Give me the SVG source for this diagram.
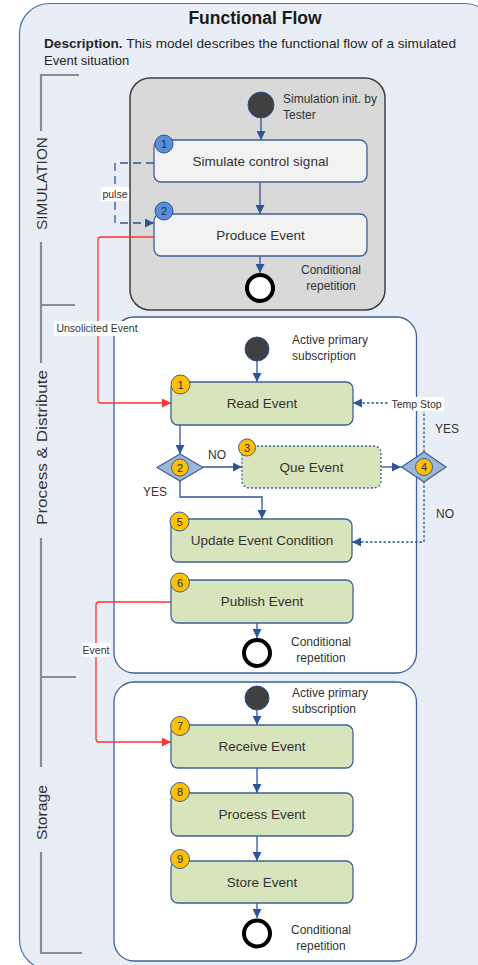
<svg xmlns="http://www.w3.org/2000/svg" width="478" height="965" viewBox="0 0 478 965">
  <style>
    text { font-family: "Liberation Sans", Arial, sans-serif; fill: #333333; }
    .title { font-size: 17.5px; font-weight: bold; fill: #1a1a1a; }
    .desc { font-size: 13px; fill: #262626; }
    .lane { font-size: 15px; fill: #333333; }
    .lbl { font-size: 13.5px; text-anchor: middle; }
    .note { font-size: 12px; }
    .small { font-size: 10.5px; }
    .num { font-size: 11px; text-anchor: middle; fill: #1f2f4f; }
    .bracket { fill: none; stroke: #8c8c8c; stroke-width: 2.2; }
    .lanebox { fill: #ffffff; stroke: #3d6198; stroke-width: 1.3; }
    .simbox { fill: #d9d9d9; stroke: #404040; stroke-width: 1.5; }
    .gray { fill: #f2f2f2; stroke: #3d6198; stroke-width: 1.3; }
    .green { fill: #d8e4bc; stroke: #3d6198; stroke-width: 1.3; }
    .dotted { stroke-dasharray: 2 2; }
    .diamond { fill: #9fb7d6; stroke: #3d6198; stroke-width: 1.2; }
    .badgeY { fill: #ffc000; stroke: #3d6198; stroke-width: 1; }
    .badgeB { fill: #5b8ed6; stroke: #2f5597; stroke-width: 1; }
    .start { fill: #404040; stroke: #2f5597; stroke-width: 1; }
    .end { fill: #ffffff; stroke: #000000; stroke-width: 4; }
    .flow { fill: none; stroke: #2f5597; stroke-width: 1.3; marker-end: url(#arr); }
    .dash { stroke-dasharray: 8 5; }
    .dot { stroke-dasharray: 2.5 2; }
    .red { fill: none; stroke: #ff3333; stroke-width: 1.3; marker-end: url(#arrRed); }
    .lblbg { fill: #ffffff; }
  </style>
  <defs>
    <marker id="arr" markerUnits="userSpaceOnUse" markerWidth="10" markerHeight="9" refX="9" refY="4.5" orient="auto">
      <path d="M0,0 L9,4.5 L0,9 Z" fill="#2f5597" stroke="none"/>
    </marker>
    <marker id="arrRed" markerUnits="userSpaceOnUse" markerWidth="10" markerHeight="9" refX="9" refY="4.5" orient="auto">
      <path d="M0,0 L9,4.5 L0,9 Z" fill="#ff3333" stroke="none"/>
    </marker>
    <radialGradient id="startGrad" cx="0.4" cy="0.35" r="0.7">
      <stop offset="0" stop-color="#5a5a5a"/>
      <stop offset="1" stop-color="#2e2e2e"/>
    </radialGradient>
  </defs>

  <!-- outer frame -->
  <rect x="19.5" y="3.5" width="475" height="966" rx="30" fill="#e9eef6" stroke="#4b6fa6" stroke-width="1.2"/>

  <text class="title" x="255" y="24" text-anchor="middle">Functional Flow</text>
  <text class="desc" x="44" y="48" textLength="412" lengthAdjust="spacingAndGlyphs"><tspan font-weight="bold">Description.</tspan> This model describes the functional flow of a simulated</text>
  <text class="desc" x="44" y="65">Event situation</text>

  <!-- lane brackets -->
  <g id="lanes">
    <path class="bracket" d="M79 75 H41 V131"/>
    <path class="bracket" d="M41 242 V363 M41 305 H75"/>
    <path class="bracket" d="M41 538 V767 M41 677 H76"/>
    <path class="bracket" d="M41 852 V953 H82"/>
    <text class="lane" transform="translate(46.5 183.5) rotate(-90)" text-anchor="middle" textLength="93" lengthAdjust="spacingAndGlyphs">SIMULATION</text>
    <text class="lane" transform="translate(46.5 447.5) rotate(-90)" text-anchor="middle" textLength="155" lengthAdjust="spacingAndGlyphs">Process &amp; Distribute</text>
    <text class="lane" transform="translate(46.5 812.5) rotate(-90)" text-anchor="middle" textLength="55" lengthAdjust="spacingAndGlyphs">Storage</text>
  </g>

  <!-- swimlane containers -->
  <rect id="simulation" class="simbox" x="130" y="78" width="255" height="232" rx="20"/>
  <rect id="process-distribute" class="lanebox" x="114" y="317" width="302.5" height="356" rx="20"/>
  <rect id="storage" class="lanebox" x="114" y="682" width="302.5" height="279" rx="20"/>

  <!-- connectors -->
  <g id="connectors">
    <path class="flow" d="M261 118 V140"/>
    <path class="flow" d="M260 182 V214"/>
    <path class="flow" d="M260 256 V273"/>
    <path class="flow dash" d="M154 163 H115 V223 H154"/>

    <path class="flow" d="M257 361 V382"/>
    <path class="flow" d="M180 425 V454"/>
    <path class="flow" d="M203 467 H242"/>
    <path class="flow" d="M381 467 H401"/>
    <path class="flow" d="M180 481 V497 H262 V519"/>
    <path class="flow dot" d="M424 452 V403 H353"/>
    <path class="flow dot" d="M424 481 V542 H352"/>
    <path class="flow" d="M257 623 V638"/>

    <path class="flow" d="M257 710 V725"/>
    <path class="flow" d="M257 768 V793"/>
    <path class="flow" d="M257 836 V861"/>
    <path class="flow" d="M257 903 V918"/>

    <path class="red" d="M154 237 H101 Q98 237 98 240 V400 Q98 403 101 403 H171"/>
    <path class="red" d="M171 602 H99 Q96 602 96 605 V739 Q96 742 99 742 H171"/>

    <rect class="lblbg" x="101" y="187" width="28" height="14"/>
    <text class="small" x="115" y="198" text-anchor="middle" font-size="10">pulse</text>
    <rect class="lblbg" x="54" y="321" width="86" height="15"/>
    <text class="small" x="97" y="332" text-anchor="middle">Unsolicited Event</text>
    <rect class="lblbg" x="389" y="397" width="55" height="14"/>
    <text class="small" x="416.5" y="408" text-anchor="middle">Temp Stop</text>
    <rect class="lblbg" x="82" y="643" width="28" height="14"/>
    <text class="small" x="96" y="654" text-anchor="middle" font-size="10">Event</text>

    <text class="note" x="217" y="459" text-anchor="middle">NO</text>
    <text class="note" x="155" y="496" text-anchor="middle">YES</text>
    <text class="note" x="447" y="433" text-anchor="middle">YES</text>
    <text class="note" x="445" y="518" text-anchor="middle">NO</text>
  </g>

  <!-- simulation lane -->
  <g id="sim-start">
    <circle class="start" cx="261" cy="105" r="13" fill="url(#startGrad)"/>
    <text class="note" x="283" y="103">Simulation init. by</text>
    <text class="note" x="283" y="119">Tester</text>
  </g>
  <g id="simulate-control-signal">
    <rect class="gray" x="154" y="140" width="213" height="42" rx="7"/>
    <text class="lbl" x="260.5" y="166">Simulate control signal</text>
    <circle class="badgeB" cx="164" cy="144" r="9"/>
    <text class="num" x="164" y="148">1</text>
  </g>
  <g id="produce-event">
    <rect class="gray" x="154" y="214" width="213" height="42" rx="7"/>
    <text class="lbl" x="260.5" y="240">Produce Event</text>
    <circle class="badgeB" cx="164" cy="211" r="9"/>
    <text class="num" x="164" y="215">2</text>
  </g>
  <g id="sim-end">
    <circle class="end" cx="260" cy="288" r="13"/>
    <text class="note" x="331" y="274" text-anchor="middle">Conditional</text>
    <text class="note" x="331" y="290" text-anchor="middle">repetition</text>
  </g>

  <!-- process & distribute lane -->
  <g id="pd-start">
    <circle class="start" cx="257" cy="349" r="12" fill="url(#startGrad)"/>
    <text class="note" x="292" y="344">Active primary</text>
    <text class="note" x="292" y="360">subscription</text>
  </g>
  <g id="read-event">
    <rect class="green" x="171" y="382" width="182" height="43" rx="7"/>
    <text class="lbl" x="262" y="408">Read Event</text>
    <circle class="badgeY" cx="180.5" cy="384.5" r="9.5"/>
    <text class="num" x="180.5" y="388.5">1</text>
  </g>
  <g id="decision-2">
    <polygon class="diamond" points="157,467.5 180,454 203,467.5 180,481"/>
    <circle class="badgeY" cx="180" cy="467.5" r="8.5"/>
    <text class="num" x="180" y="471.5">2</text>
  </g>
  <g id="que-event">
    <rect class="green dotted" x="242" y="446" width="139" height="42" rx="7"/>
    <text class="lbl" x="311.5" y="472">Que Event</text>
    <circle class="badgeY" cx="247" cy="447.5" r="8.5"/>
    <text class="num" x="247" y="451.5">3</text>
  </g>
  <g id="decision-4">
    <polygon class="diamond" points="401.5,467 424,452 446,467 424,482"/>
    <circle class="badgeY" cx="424" cy="467" r="8.5"/>
    <text class="num" x="424" y="471">4</text>
  </g>
  <g id="update-event-condition">
    <rect class="green" x="171" y="519" width="181" height="43" rx="7"/>
    <text class="lbl" x="262" y="545">Update Event Condition</text>
    <circle class="badgeY" cx="179.5" cy="521.5" r="9.5"/>
    <text class="num" x="179.5" y="525.5">5</text>
  </g>
  <g id="publish-event">
    <rect class="green" x="171" y="580" width="182" height="43" rx="7"/>
    <text class="lbl" x="262" y="606">Publish Event</text>
    <circle class="badgeY" cx="180" cy="582.5" r="9.5"/>
    <text class="num" x="180" y="586.5">6</text>
  </g>
  <g id="pd-end">
    <circle class="end" cx="257" cy="653" r="13"/>
    <text class="note" x="321" y="646" text-anchor="middle">Conditional</text>
    <text class="note" x="321" y="662" text-anchor="middle">repetition</text>
  </g>

  <!-- storage lane -->
  <g id="storage-start">
    <circle class="start" cx="257" cy="698" r="12" fill="url(#startGrad)"/>
    <text class="note" x="292" y="697">Active primary</text>
    <text class="note" x="292" y="713">subscription</text>
  </g>
  <g id="receive-event">
    <rect class="green" x="171" y="725" width="182" height="43" rx="7"/>
    <text class="lbl" x="262" y="751">Receive Event</text>
    <circle class="badgeY" cx="180" cy="726" r="9.5"/>
    <text class="num" x="180" y="730">7</text>
  </g>
  <g id="process-event">
    <rect class="green" x="171" y="793" width="182" height="43" rx="7"/>
    <text class="lbl" x="262" y="819">Process Event</text>
    <circle class="badgeY" cx="180" cy="792" r="9.5"/>
    <text class="num" x="180" y="796">8</text>
  </g>
  <g id="store-event">
    <rect class="green" x="171" y="861" width="182" height="42" rx="7"/>
    <text class="lbl" x="262" y="887">Store Event</text>
    <circle class="badgeY" cx="180" cy="859" r="9.5"/>
    <text class="num" x="180" y="863">9</text>
  </g>
  <g id="storage-end">
    <circle class="end" cx="257" cy="933.5" r="13"/>
    <text class="note" x="321" y="934" text-anchor="middle">Conditional</text>
    <text class="note" x="321" y="950" text-anchor="middle">repetition</text>
  </g>
</svg>
